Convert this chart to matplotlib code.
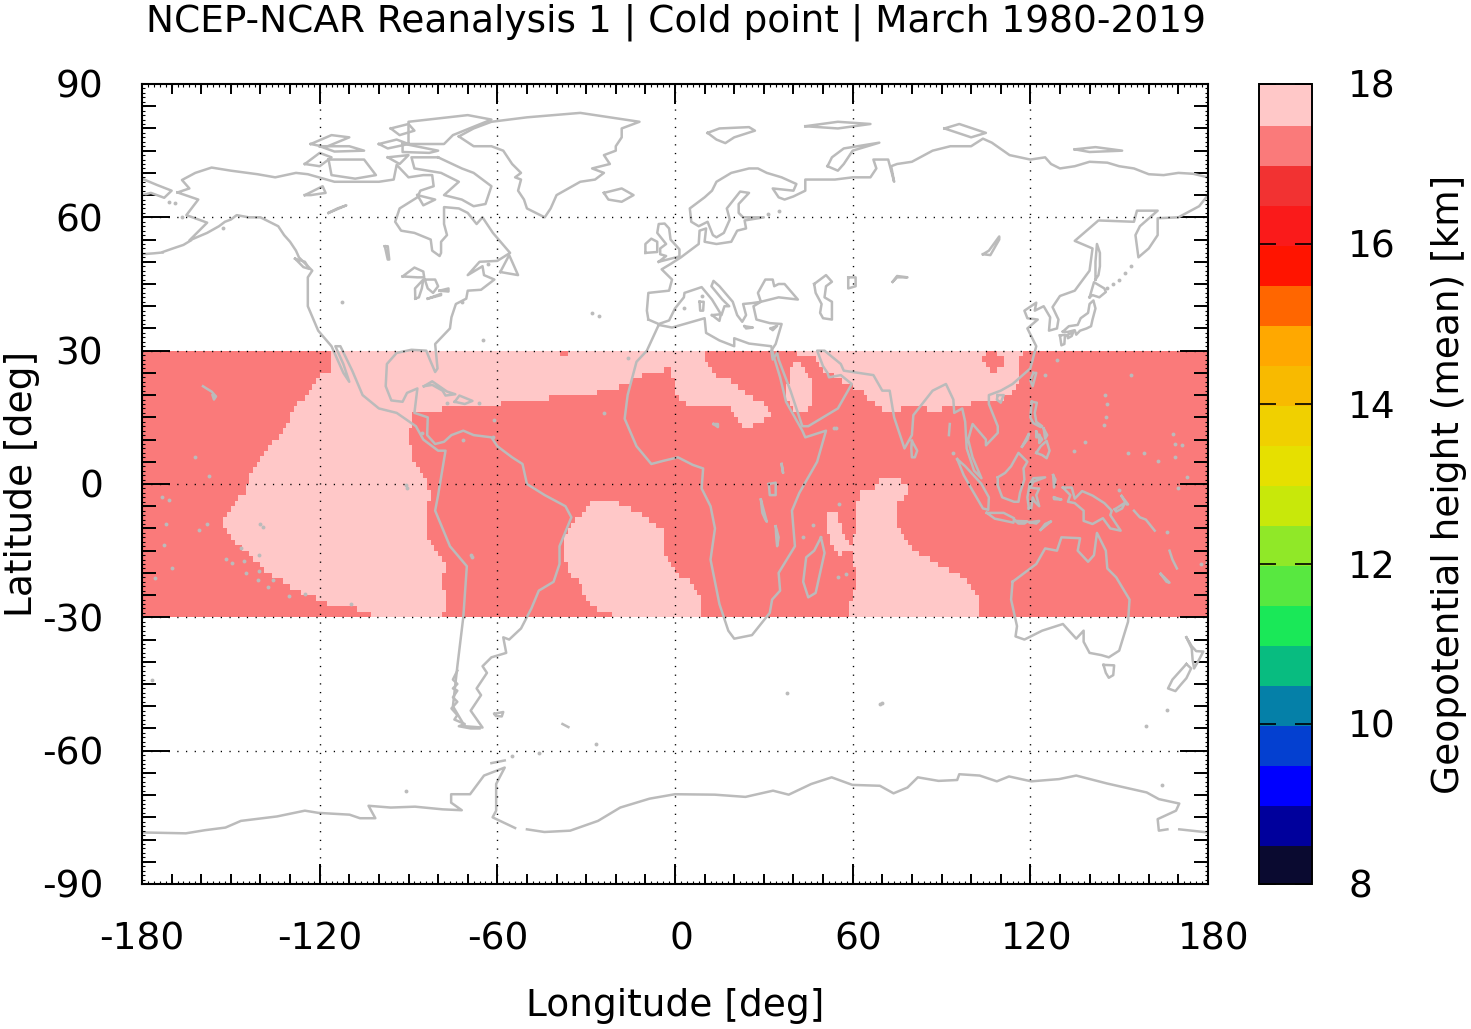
"""Cold point height map, NCEP-NCAR Reanalysis 1, March 1980-2019."""
import matplotlib
matplotlib.use("Agg")
import matplotlib.pyplot as plt
import numpy as np
from matplotlib.colors import BoundaryNorm, ListedColormap
from matplotlib.transforms import ScaledTranslation

W, H = 1471, 1029

# colour classes of the bar, 8 km upwards, 0.5 km each
level_edges = [8.0, 8.5, 9.0, 9.5, 10.0, 10.5, 11.0, 11.5, 12.0, 12.5, 13.0,
               13.5, 14.0, 14.5, 15.0, 15.5, 16.0, 16.5, 17.0, 17.5, 18.0]
level_colors = ["#0a0a30", "#00009c", "#0000ff", "#0440d0", "#0580a8", "#08bc80",
                "#1ae858", "#58e840", "#90e828", "#c8e80a", "#e6e000", "#f0d000",
                "#f8ba00", "#ffa800", "#ff6600", "#ff1400", "#fa1a1a", "#f23232",
                "#fa7a7a", "#ffc8c8"]

height_low = 17.25
height_high = 17.75

# rows run from 30N southward in 1.25 deg steps, 48 rows
pacific_west = [-116.25, -116.25, -116.25, -116.25, -120, -121.25, -122.5, -123.75, -125, -127.5,
                -128.75, -130, -130, -131.25, -132.5, -133.75, -136.25, -137.5, -138.75, -140,
                -141.25, -142.5, -143.75, -143.75, -145, -145, -147.5, -148.75, -150, -151.25,
                -152.5, -152.5, -151.25, -150, -148.75, -146.25, -143.75, -142.5, -140, -138.75,
                -136.25, -132.5, -130, -126.25, -121.25, -117.5, -107.5, -102.5]
pacific_east = [-38.75, 10, 11.25, -3.75, -11.25, -15, -18.75, -26.25, -42.5, -58.75,
                -78.75, -88.75, -88.75, -88.75, -90, -90, -90, -88.75, -88.75, -88.75,
                -87.5, -86.25, -85, -83.75, -83.75, -82.5, -82.5, -83.75, -83.75, -83.75,
                -83.75, -83.75, -83.75, -83.75, -82.5, -81.25, -80, -78.75, -77.5, -77.5,
                -78.75, -78.75, -78.75, -77.5, -77.5, -77.5, -77.5, -78.75]

africa_runs = {0: [(-36.25, 10)], 3: [(-1.25, 12.5)], 4: [(-1.25, 13.75)], 5: [(0, 18.75)],
               6: [(0, 21.25)], 7: [(0, 23.75)], 8: [(1.25, 26.25)], 9: [(3.75, 30)],
               10: [(18.75, 31.25)], 11: [(20, 32.5)], 12: [(21.25, 30)], 13: [(22.5, 26.25)]}
arabia_runs = {2: [(40, 42.5)], 3: [(38.75, 43.75)], 4: [(38.75, 45)], 5: [(38.75, 46.25)],
               6: [(37.5, 46.25)], 7: [(37.5, 46.25)], 8: [(37.5, 46.25)], 9: [(38.75, 46.25)],
               10: [(40, 45)]}
asia_runs = {0: [(41.25, 105), (108.75, 117.5)], 1: [(47.5, 103.75), (111.25, 116.25)],
             2: [(48.75, 105), (111.25, 116.25)], 3: [(50, 106.25), (108.75, 116.25)],
             4: [(53.75, 116.25)], 5: [(56.25, 116.25)], 6: [(60, 115)], 7: [(63.75, 113.75)],
             8: [(65, 111.25)], 9: [(67.5, 100)], 10: [(70, 76.25), (85, 90)]}
atlantic_runs = {27: [(-28.75, -18.75)], 28: [(-30, -15)], 29: [(-31.25, -11.25)],
                 30: [(-33.75, -8.75)], 31: [(-35, -6.25)], 32: [(-36.25, -3.75)],
                 33: [(-37.5, -3.75)], 34: [(-37.5, -3.75)], 35: [(-37.5, -3.75)],
                 36: [(-37.5, -3.75)], 37: [(-37.5, -2.5)], 38: [(-36.25, -1.25)],
                 39: [(-36.25, 0)], 40: [(-35, 1.25)], 41: [(-32.5, 5)], 42: [(-31.25, 6.25)],
                 43: [(-31.25, 7.5)], 44: [(-30, 8.75)], 45: [(-28.75, 8.75)],
                 46: [(-26.25, 8.75)], 47: [(-21.25, 8.75)]}
mozambique_runs = {29: [(51.25, 55)], 30: [(51.25, 55)], 31: [(51.25, 56.25)], 32: [(51.25, 56.25)],
                   33: [(52.5, 57.5)], 34: [(52.5, 58.75)], 35: [(53.75, 60)], 36: [(55, 56.25)]}
indian_runs = {23: [(68.75, 76.25)], 24: [(67.5, 78.75)], 25: [(62.5, 78.75)], 26: [(62.5, 77.5)],
               27: [(61.25, 75)], 28: [(61.25, 75)], 29: [(61.25, 75)], 30: [(61.25, 75)],
               31: [(61.25, 75)], 32: [(61.25, 76.25)], 33: [(60, 77.5)], 34: [(60, 78.75)],
               35: [(60, 80)], 36: [(60, 82.5)], 37: [(60, 86.25)], 38: [(60, 88.75)],
               39: [(61.25, 92.5)], 40: [(61.25, 96.25)], 41: [(61.25, 98.75)], 42: [(61.25, 100)],
               43: [(60, 101.25)], 44: [(60, 102.5)], 45: [(58.75, 102.5)], 46: [(58.75, 102.5)],
               47: [(58.75, 102.5)]}

# coastlines, lon/lat
north_america = [(-168, 65.6), (-164, 66.5), (-166.5, 68.4), (-162, 70), (-156.5, 71.2), (-150, 70.5), (-141, 69.7),
                 (-135, 69), (-128, 70), (-124, 69.7), (-115, 68), (-108, 68), (-100, 68), (-95, 68.5), (-94, 71.8),
                 (-90, 69), (-85, 69.5), (-82, 69.5), (-81.5, 67), (-86, 66), (-87, 64.5), (-93, 62), (-94.5, 59),
                 (-92.5, 57), (-88, 56.5), (-82.5, 55), (-82, 52.5), (-79.5, 51.3), (-79, 52), (-79, 54.5), (-77, 56),
                 (-78, 58.5), (-78, 62.3), (-73, 62), (-70, 61), (-67, 58.5), (-65, 60), (-61.5, 56.5), (-57, 53),
                 (-55.7, 52), (-60, 50.2), (-66, 50), (-70, 47), (-65, 49), (-64.5, 47), (-61, 46), (-65.5, 43.7),
                 (-70, 43.5), (-70.5, 41.7), (-74, 40.5), (-75.5, 37.5), (-76, 35), (-81, 31.5), (-80.2, 26), (-81, 25.2),
                 (-82.8, 28), (-84, 30), (-89, 30.2), (-94, 29.5), (-97.3, 27), (-97.7, 22), (-95.8, 18.8), (-92, 18.5),
                 (-90.5, 20.5), (-87, 21.5), (-88, 16), (-83.5, 15), (-83.7, 11), (-81, 9), (-78, 9.5), (-75.5, 11),
                 (-71.5, 12), (-68, 11), (-62, 10.5), (-60, 8.5), (-55, 6), (-51.5, 4.5), (-50, 0), (-44, -2.5), (-37, -5),
                 (-35, -7.5), (-39, -14), (-39, -18), (-41, -22), (-46, -24), (-48.5, -28), (-52, -32.5), (-56, -35),
                 (-58, -34.5), (-57, -38), (-62, -39), (-65, -41), (-63.5, -42.5), (-67, -46), (-65.5, -47.5), (-69, -51),
                 (-65, -54.8), (-71, -54.5), (-75, -50), (-73.5, -41), (-71.5, -30), (-70.3, -18.5), (-76, -14), (-81, -6),
                 (-80, -2.5), (-79, 1.5), (-77.5, 7.5), (-80, 7.5), (-85, 10), (-87.5, 13), (-94, 16), (-100, 17),
                 (-105.5, 20), (-109, 25.5), (-113, 31), (-114.7, 31), (-112, 27), (-110, 23), (-112, 25), (-116, 31),
                 (-120.5, 34.5), (-124, 40), (-124, 46.5), (-122.5, 48), (-127, 51), (-128, 52.5), (-130, 54.5), (-132, 56),
                 (-134, 58), (-137, 59), (-140, 60), (-144, 60), (-148, 60.5), (-150, 59.5), (-152, 59), (-154, 58),
                 (-158, 56.5), (-164, 54.8), (-158, 58.8), (-165, 60.5), (-161, 64), (-168, 65.6)]
chile_fjords = [(-73.5, -42), (-75, -44), (-73.5, -45), (-75, -46), (-73.5, -46.5), (-75, -48), (-73.5, -49), (-75.5, -50.5), (-73.5, -52),
                (-74.5, -53), (-71, -54), (-73, -54.5), (-69, -55), (-66, -55)]
eurasia_north = [(-9, 37), (-9.5, 39), (-9, 43), (-2, 43.5), (-1, 46), (-4.5, 48.3), (-1.5, 49.5), (2, 51), (4, 52), (8, 54),
                 (8.3, 57), (10.5, 57.5), (10, 54.5), (14, 54), (19, 54.5), (21, 57), (24, 57.5), (23.5, 59.3), (30, 60),
                 (23, 60), (21.5, 61), (21.5, 63), (25, 65.5), (22, 65.8), (17.5, 62), (18.5, 59.5), (16.5, 56.5), (14, 55.5),
                 (12.8, 56), (11, 59), (8, 58), (5.5, 59), (5, 62), (8, 63.5), (10, 64.5), (12.5, 66), (14, 68), (16, 68.8),
                 (19, 70), (22, 70.5), (25, 71), (28, 71), (31, 70), (36, 69), (41, 67.5), (40, 66), (33, 66.5), (35, 64.5),
                 (37, 64), (40, 64.7), (44, 66), (44, 68.5), (54, 68.5), (60, 69), (66, 69), (68, 71), (67, 73), (72, 73),
                 (74, 68), (73, 71.5), (75, 72), (80, 72.5), (87, 75), (93, 76), (100, 76), (104, 77.7), (107, 76.8),
                 (113, 74), (120, 73), (125, 73.5), (127, 72), (130, 71), (135, 71.5), (140, 72.5), (146, 72.3), (150, 71.5),
                 (155, 71), (160, 69.7), (165, 69.5), (170, 70), (175, 69.8), (180, 69)]
chukotka = [(-180, 68.7), (-175, 67.3), (-170, 66), (-172.5, 64.4), (-177, 65.5), (-180, 65)]
eurasia_south = [(180, 65), (177, 62.5), (170, 60), (163, 59.8), (163, 56), (160, 53), (156.5, 51), (155.5, 56), (157, 58),
                 (163, 61.5), (156, 61.5), (155, 59), (143, 59.3), (135, 54.7), (141, 53), (140, 48), (135, 43.5), (130, 42.3),
                 (127.5, 39.8), (129.5, 37), (129, 35), (126.3, 34.5), (126.7, 37.5), (124.5, 40), (121.5, 39), (122, 40.8),
                 (118, 39), (119, 37.3), (122.5, 37), (119, 35), (122, 31), (120, 26), (114, 22.5), (110, 21), (106, 20),
                 (106, 18), (109, 13), (109, 11.5), (105, 8.7), (105, 10), (100.5, 13.5), (99, 10), (100.5, 6), (103.5, 1.3),
                 (101, 3), (98.5, 8), (98, 14), (97, 17), (94.3, 16), (94, 19), (91.5, 22.5), (87, 21), (80.5, 15.5), (80, 11),
                 (77.5, 8), (74, 15), (72.5, 21), (70, 21), (67, 24.5), (57, 25.5), (56, 27), (50.5, 30), (48, 30), (50, 26.5),
                 (51.5, 25), (52, 24), (56, 24.5), (59.7, 22.5), (55, 17), (45, 13), (43, 13), (39, 21), (35, 28), (34.5, 29.5),
                 (33, 28), (32.5, 30), (34, 31.5), (36, 36), (32, 36.2), (27.5, 37), (26.5, 40), (29, 41), (35, 42),
                 (41.5, 41.5), (37, 45), (35, 45), (33.5, 44.5), (33, 46), (30.5, 46), (28, 43), (29, 41), (26, 40.7), (23, 40.5),
                 (24, 38), (22.7, 36.5), (21, 38), (19.5, 41), (15, 44.5), (13, 45.7), (12.3, 44.5), (16, 41.5), (18.3, 40),
                 (16.7, 40), (15.7, 38), (12.5, 41.5), (9, 44.3), (3.2, 43), (3, 42), (0, 39.5), (-2, 36.8), (-5.5, 36), (-9, 37)]
africa = [(-5.5, 35.8), (-1, 35.2), (10, 37.3), (10.5, 34), (15, 32.3), (20, 31), (20, 32.8), (25, 31.6), (32.5, 31), (33, 29.5),
          (35.5, 24), (37.5, 18.5), (43, 12), (44, 10.5), (51, 12), (48, 5), (42, -2), (39.5, -6), (40.5, -14), (35, -20),
          (35.5, -24), (32.8, -26), (32, -29), (26, -34), (20, -34.8), (18, -33), (15, -27), (12, -17), (13.5, -10), (12, -5),
          (9, -1), (9.5, 3.5), (6, 4.3), (1, 6), (-4, 5.2), (-8, 4.5), (-13, 8.5), (-17, 14.7), (-16, 20), (-13, 27.5),
          (-9.5, 30), (-5.5, 35.8)]
australia = [(114, -22), (113.5, -26), (115.5, -32), (115, -34.3), (118, -35), (124, -33), (131, -31.5), (135.5, -34.8), (138, -33),
             (138, -35.5), (140, -38), (144, -38.5), (146.5, -39), (150, -37.5), (153, -31), (153.5, -26), (149, -21), (146, -19),
             (145.5, -15), (142.5, -11), (141.5, -16), (139.5, -17.5), (136, -15), (136.8, -12.2), (130.5, -12), (129, -15),
             (125, -14.5), (122, -18), (114, -22)]
antarctica_west = [(-180, -78.4), (-165.2, -78.6), (-158.8, -77.9), (-151.8, -77.3), (-146.6, -75.8), (-134.4, -74.8), (-125, -73.5),
                   (-120.4, -74), (-109.9, -74.4), (-106.4, -75.2), (-101.2, -75.2), (-103.5, -72.4), (-96, -72.8), (-87.8, -72.6),
                   (-78.5, -73.2), (-72, -73.4), (-75.6, -71.7), (-75.6, -69.8), (-69.2, -69.8), (-64.5, -65.6), (-57.5, -63.8),
                   (-60.4, -67.5), (-60.4, -73.5), (-61.6, -75), (-54, -77.4)]
antarctica_east = [(-50, -77.7), (-44.1, -78.3), (-35.4, -78), (-26, -75.8), (-18.5, -72.8), (-8.6, -70.8), (0, -69.8), (13.4, -69.9),
                   (23.8, -70.4), (33.1, -69), (38.4, -69.9), (46, -67.5), (52.9, -66), (59.9, -67.7), (69.2, -67.9), (73.8, -69.6),
                   (78.5, -68.3), (82, -66), (89, -66.8), (95.3, -66.6), (96, -65.3), (102.9, -65.6), (108.7, -66.9), (112.8, -65.8),
                   (120.3, -66.9), (129.7, -66.4), (135.5, -65.6), (146, -67.4), (159.3, -69.4), (163.4, -70.9), (170.3, -71.9),
                   (169.2, -73.5), (163, -75.4), (163.4, -78), (166.3, -77.7)]
ross_shelf = [(170.3, -77.7), (180, -78.4)]

greenland = [(-73, 78.2), (-68, 76), (-62, 76), (-58, 75), (-55, 72), (-52, 70), (-54, 69), (-52, 68.5), (-53, 66), (-51, 64), (-50, 62),
             (-47, 61), (-44, 60), (-42, 62), (-40, 65), (-32, 68), (-27, 68.5), (-24, 70), (-28, 71), (-22, 72), (-24, 74), (-20, 75),
             (-20, 76), (-18, 78), (-18, 80), (-12, 81.5), (-32, 83.5), (-50, 82.5), (-62, 81.5), (-68, 80), (-73, 78.2)]
baffin = [(-80, 73.5), (-72, 71), (-68, 70), (-62, 67), (-64, 63), (-68, 62.5), (-72, 64), (-78, 65), (-73, 68), (-79, 70), (-88, 71),
          (-89, 73.5), (-80, 73.5)]
victoria = [(-117, 73), (-105, 73), (-101, 69.5), (-108, 68.7), (-116, 69.5), (-117, 73)]
banks = [(-125, 72), (-120, 74.5), (-116, 73.5), (-120, 71.5), (-125, 72)]
ellesmere = [(-90, 76.5), (-78, 76.5), (-75, 78.5), (-62, 82), (-70, 83), (-90, 81.5), (-90, 76.5)]
devon = [(-92, 76.6), (-80, 75), (-83, 74.5), (-92, 74.7), (-92, 76.6)]
melville = [(-120, 76), (-110, 76), (-105, 75), (-115, 74.8), (-120, 76)]
prince_patrick = [(-123, 76.5), (-116, 78.5), (-110, 78), (-118, 75.8), (-123, 76.5)]
bathurst = [(-100, 76.5), (-94, 77.5), (-90, 76.5), (-97, 75.5), (-100, 76.5)]
axel_heiberg = [(-96, 80), (-90, 81), (-88, 79.5), (-93, 78.5), (-96, 80)]
somerset = [(-97, 73.5), (-90, 74), (-93, 72), (-97, 73.5)]
southampton = [(-87, 65), (-81, 64), (-85, 62.7), (-87, 65)]
newfoundland = [(-59, 47.7), (-56, 51.5), (-53, 47), (-59, 47.7)]
iceland = [(-24, 65.5), (-18, 66.5), (-14, 65), (-18, 63.5), (-22.5, 64), (-24, 65.5)]
vancouver = [(-128.3, 50.7), (-125, 50), (-123.5, 48.4), (-125.5, 48.8), (-128.3, 50.7)]
lake_superior = [(-92, 46.7), (-88, 48.7), (-85, 47.8), (-84.7, 46.5), (-87, 46.5), (-92, 46.7)]
lake_michigan = [(-87.7, 41.7), (-87.8, 44), (-85, 46), (-85.5, 44), (-86.5, 42), (-87.7, 41.7)]
lake_huron = [(-84.5, 46), (-81, 46), (-80, 44.5), (-81.7, 43), (-83.5, 44), (-84.5, 46)]
lake_erie = [(-83.5, 41.7), (-79, 42.8), (-79, 42.5), (-83.5, 41.7)]
lake_ontario = [(-79.5, 43.5), (-76.5, 44), (-76.5, 43.3), (-79.5, 43.5)]
lake_winnipeg = [(-98, 53.5), (-97, 53.5), (-96.5, 50.5), (-97, 50.5), (-98, 53.5)]
great_slave = [(-117, 61), (-111, 62.7), (-114, 62), (-117, 61)]
great_bear = [(-125, 65), (-119, 67), (-118, 65.5), (-123, 65), (-125, 65)]
cuba = [(-84.8, 22), (-82, 23.1), (-77, 20.8), (-74.2, 20.2), (-77.5, 19.9), (-78.5, 21), (-82, 22.3), (-84.8, 22)]
hispaniola = [(-74.4, 18.5), (-72.8, 19.9), (-68.4, 18.7), (-71, 18), (-74.4, 18.5)]
hawaii = [(-159.4, 22), (-158, 21.4), (-156.5, 20.8), (-155, 19.7), (-155.7, 19), (-156.2, 20)]
aleutians_east = [(-173, 52.2), (-170, 52.9), (-166, 53.8), (-163.5, 54.8)]
aleutians_west = [(-180, 51.7), (-176, 51.9), (-173, 52.1)]
uk = [(-5.5, 50), (1.5, 51.2), (1.5, 52.8), (-1.5, 55), (-2, 57.5), (-3.5, 58.6), (-5.5, 58.5), (-6, 56.5), (-3, 54), (-5, 53), (-5, 51.7),
      (-3, 51.3), (-5.5, 50)]
ireland = [(-10, 52), (-6, 52.2), (-6, 54.5), (-8, 55.2), (-10, 54), (-10, 52)]
svalbard = [(11, 79), (15, 80), (25, 80.3), (27, 79.5), (20, 78), (17, 76.7), (14, 77.5), (11, 79)]
franz_josef = [(44, 80.5), (55, 81.5), (66, 81), (55, 80), (44, 80.5)]
novaya_zemlya = [(51.5, 71.5), (53, 73.5), (57, 75.5), (69, 76.8), (60, 75), (57, 72), (55, 70.5), (51.5, 71.5)]
severnaya = [(91, 80), (96, 81), (105, 79), (100, 78), (91, 80)]
new_siberian = [(135, 75.3), (142, 75.8), (151, 75), (140, 74.7), (135, 75.3)]
caspian = [(47, 45), (51, 47), (53, 45.5), (51, 44.5), (50.5, 42), (53, 41), (53, 37), (50, 37.3), (49, 38.5), (49.5, 40.5), (47.5, 43), (47, 45)]
aral = [(58.5, 46.5), (61, 46.5), (61, 44.5), (58.5, 44), (58.5, 46.5)]
balkhash = [(73.5, 45.5), (75, 46.8), (78.5, 46.5), (75, 46.5), (73.5, 45.5)]
baikal = [(104, 51.7), (106, 52.5), (109.5, 55.7), (109.5, 55), (106.5, 51.5), (104, 51.7)]
sardinia = [(8.3, 41), (9.7, 41), (9.5, 39), (8.5, 39), (8.3, 41)]
sicily = [(12.5, 38), (15.5, 38.2), (15, 36.7), (12.5, 38)]
crete = [(23.5, 35.5), (26.3, 35.2), (24, 35), (23.5, 35.5)]
cyprus = [(32.3, 35), (34.5, 35.6), (33, 34.6), (32.3, 35)]
madagascar = [(49.3, -12), (50.5, -15.5), (47.5, -24.5), (45, -25.5), (43.3, -22), (44.3, -16.5), (47, -15), (49.3, -12)]
lake_victoria = [(31.7, 0), (34, 0.3), (34, -2.5), (32, -2.5), (31.7, 0)]
tanganyika = [(29, -3.5), (30, -6), (31, -8.5), (30.5, -8), (29.5, -6.5), (29, -3.5)]
lake_malawi = [(34, -9.5), (35, -12), (34.5, -14), (34.2, -12), (34, -9.5)]
lake_turkana = [(36, 4.5), (36.5, 2.5), (36, 4.5)]
lake_chad = [(13, 13.5), (14.5, 13.5), (14.5, 12.8), (13, 13.5)]
sri_lanka = [(80, 9.7), (81.8, 7.5), (81, 6), (80, 6), (79.8, 8), (80, 9.7)]
sumatra = [(95.3, 5.6), (98, 4), (103.5, 0), (106, -3), (105.8, -5.8), (104, -5.5), (100.5, -1.5), (97.5, 2), (95.3, 5.6)]
java = [(105.3, -6.5), (108.5, -6.5), (111, -6.5), (114.5, -7.7), (114.3, -8.7), (108, -7.8), (105.3, -6.5)]
sumbawa = [(115, -8.3), (119, -8.4), (118, -8.9), (116, -8.9), (115, -8.3)]
flores = [(119.8, -8.6), (123, -8.3), (122, -8.9), (119.8, -8.6)]
timor = [(123.5, -10.3), (127, -8.4), (125, -9), (123.5, -10.3)]
borneo = [(109, 1.5), (111.5, 2.5), (113.5, 4), (116, 7), (119, 5), (117.7, 3.5), (118, 1), (116.5, -2), (116, -4), (114.5, -4),
          (110.5, -3), (109, -0.3), (109, 1.5)]
sulawesi = [(119.5, -5.5), (119, -3), (119.8, 0), (121, 1.3), (125, 1.5), (121, 0.5), (120, -0.8), (122, -1), (123, -1), (122, -2.5),
            (123, -5), (121.5, -4), (120.8, -3), (120.3, -5.5), (119.5, -5.5)]
luzon = [(120.5, 18.5), (122.2, 18.3), (121.5, 16), (122, 14), (124, 13), (123.5, 12.8), (121, 13.7), (120, 15), (120.5, 18.5)]
mindanao = [(122, 7), (123.5, 8.5), (125.5, 9.7), (126.5, 7.5), (125.5, 5.8), (124, 6.5), (122, 7)]
samar = [(124.5, 12.5), (125.7, 11), (125, 10.2), (124.5, 12.5)]
panay = [(122, 11.8), (123, 10.5), (122, 10.5), (122, 11.8)]
negros = [(123, 11), (124, 10), (123, 9.2), (123, 11)]
palawan = [(117.2, 8.4), (119.5, 11.3), (119, 10), (117.2, 8.4)]
halmahera = [(127.7, 2), (128.5, 1), (128, -0.8), (127.7, 2)]
seram = [(128, -3), (130.5, -3.5), (128, -3.4), (128, -3)]
new_guinea = [(131, -0.8), (134, -0.8), (135, -3.3), (137.5, -1.6), (141, -2.6), (145, -4.3), (147.5, -6), (147, -7), (150.5, -10.5),
              (147, -10), (144.5, -7.7), (141, -9), (138, -8.3), (138, -6), (135, -4.3), (132.7, -4), (133.5, -2.5), (131, -0.8)]
new_britain = [(148.5, -5.7), (152, -4.2), (151, -5.5), (149, -6.2), (148.5, -5.7)]
new_ireland = [(150.8, -2.7), (153, -4.6), (152.5, -4.6), (150.8, -2.7)]
solomons = [(155, -6), (157, -7.5), (159, -8), (162, -10.5)]
vanuatu = [(167, -15), (168, -17), (169.5, -19)]
new_caledonia = [(164, -20.2), (167, -22.2), (166, -22), (164, -20.2)]
honshu = [(131, 34.3), (133, 35.5), (136, 35.8), (137, 37.3), (139.5, 38.5), (140, 40.5), (141.3, 41.3), (142, 39.5), (141, 37), (140.5, 35.5),
          (139, 35), (136.8, 34.5), (135.5, 33.6), (135, 34.6), (132.5, 34.2), (131, 34.3)]
hokkaido = [(140, 42), (141.5, 45.4), (145, 44), (145.5, 43.2), (143.3, 42), (141, 42.5), (140, 42)]
kyushu = [(130, 33.4), (131.7, 33.6), (131.5, 31.5), (130.5, 31.2), (130, 33.4)]
shikoku = [(132.5, 33.5), (134.5, 34.2), (134, 33.3), (132.7, 32.8), (132.5, 33.5)]
sakhalin = [(142, 46), (142, 50), (142.5, 54), (143.5, 52), (143.5, 49), (143, 47), (142, 46)]
taiwan = [(121, 25), (122, 25), (120.8, 22), (120, 23.3), (121, 25)]
hainan = [(109, 20), (111, 20), (110, 18.3), (108.7, 19), (109, 20)]
andaman = [(92.8, 13.5), (92.5, 11)]
nz_north = [(172.7, -34.5), (174.5, -36.5), (176, -37.6), (178.4, -37.7), (177, -39.5), (175.3, -41.5), (174.8, -39.5), (174.5, -37), (172.7, -34.5)]
nz_south = [(172.7, -40.5), (174.3, -41.5), (172.7, -43.7), (171, -45), (169, -46.6), (166.5, -46), (168, -44), (172.7, -40.5)]
tasmania = [(144.7, -40.7), (148.3, -40.8), (148, -43), (146.5, -43.6), (145.5, -42.5), (144.7, -40.7)]
falklands = [(-61, -51.7), (-58, -51.3), (-58.5, -52.3), (-60.5, -52.2), (-61, -51.7)]
south_georgia = [(-38, -54), (-36, -54.7)]
south_shetland = [(-62, -62.8), (-57.5, -62.2)]

coast_lines = [north_america, chile_fjords, eurasia_north, chukotka, eurasia_south, africa, australia, antarctica_west, antarctica_east,
               ross_shelf, greenland, baffin, victoria, banks, ellesmere, devon, melville, prince_patrick, bathurst, axel_heiberg, somerset,
               southampton, newfoundland, iceland, vancouver, lake_superior, lake_michigan, lake_huron, lake_erie, lake_ontario,
               lake_winnipeg, great_slave, great_bear, cuba, hispaniola, hawaii, aleutians_east, aleutians_west, uk, ireland, svalbard,
               franz_josef, novaya_zemlya, severnaya, new_siberian, caspian, aral, balkhash, baikal, sardinia, sicily, crete, cyprus,
               madagascar, lake_victoria, tanganyika, lake_malawi, lake_turkana, lake_chad, sri_lanka, sumatra, java, sumbawa, flores,
               timor, borneo, sulawesi, luzon, mindanao, samar, panay, negros, palawan, halmahera, seram, new_guinea, new_britain,
               new_ireland, solomons, vanuatu, new_caledonia, honshu, hokkaido, kyushu, shikoku, sakhalin, taiwan, hainan, andaman,
               nz_north, nz_south, tasmania, falklands, south_georgia, south_shetland]

small_islands = [(-162, 6.1), (-157.3, 1.8), (-173.1, -2.9), (-170.8, -3.6), (-172, -9.1), (-157.9, -9), (-160.9, -10.3), (-172.5, -13.8),
                 (-140.2, -8.9), (-139, -9.6), (-146.4, -14.4), (-140.4, -16), (-149.7, -17.7), (-151.6, -16.8), (-145.7, -17.3),
                 (-170, -19), (-175.5, -21.2), (-145, -20), (-140.4, -19.5), (-140.8, -21.7), (-135.8, -21.5), (-137.3, -23.2),
                 (-130.3, -25.2), (-125, -24.7), (-109.3, -27), (-91, -0.3), (-90.5, -0.8), (125, 24.5), (129, 28), (145.3, 20),
                 (146, 18.1), (145.7, 15.1), (144.8, 13.3), (154, 24.5), (138.4, 9.5), (134.7, 7.4), (153, 7), (158.4, 6.9), (163, 5.2),
                 (169, 6.1), (168.3, 11.2), (168.8, 9), (171.2, 8.8), (173, 1.6), (169.8, -0.9), (166, -10.8), (150, -1.4), (93.8, 6.9),
                 (46.5, -9.3), (43.3, -11.9), (55.2, -21), (57.6, -20.3), (53.8, 12.5), (54.5, 12.5), (69.8, -49.2), (69.3, -49.5),
                 (37.8, -47), (166, -50.8), (164.5, -67.7), (-176.6, -44), (-26.7, -58.5), (-45.9, -60.6), (-55, -61.3), (-90.7, -69),
                 (-69, -16), (-68.5, -16.5), (-71.5, 10), (-64.7, 32.3), (-112.5, 41), (-28, 38.5), (-25.5, 37.8), (-16, 28.3), (-24, 16),
                 (-171, 63.5), (-169, 63.2), (-166.5, 60), (146, 44), (148, 45), (150, 46), (152, 47.5), (154, 49), (-152.5, 57.5),
                 (3, 39.7), (9.2, 42.2), (55.5, -4.6), (179.5, -17.8), (-63, 49.5), (-72, 41), (-77, 18.2), (-66.3, 18.3), (-85.5, 11.5),
                 (31.5, 60.8), (35, 61.5), (-61, 14.5), (-61.5, 10.5), (177.5, -18), (159, -54.5)]

x_ticks = [-180, -120, -60, 0, 60, 120, 180]
x_tick_labels = ["-180", "-120", "-60", "0", "60", "120", "180"]
y_ticks = [-90, -60, -30, 0, 30, 60, 90]
y_tick_labels = ["-90", "-60", "-30", "0", "30", "60", "90"]
bar_ticks = [8, 10, 12, 14, 16, 18]

lon_edges = np.arange(-180, 180.01, 1.25)
lat_edges = np.arange(30, -30.01, -1.25)
lon_mid = (lon_edges[:-1] + lon_edges[1:]) / 2

grid = np.full((len(lat_edges) - 1, len(lon_mid)), height_low)
for row, (west, east) in enumerate(zip(pacific_west, pacific_east)):
    grid[row, (lon_mid > west) & (lon_mid < east)] = height_high
for runs in [africa_runs, arabia_runs, asia_runs, atlantic_runs, mozambique_runs, indian_runs]:
    for row, spans in runs.items():
        for west, east in spans:
            grid[row, (lon_mid > west) & (lon_mid < east)] = height_high

plt.rcParams["font.family"] = "DejaVu Sans"
plt.rcParams["font.size"] = 27

fig = plt.figure(figsize=(W / 100, H / 100), dpi=100)
ax = fig.add_axes([142 / W, 1 - 884 / H, 1066 / W, 800 / H])

cmap = ListedColormap(level_colors)
norm = BoundaryNorm(level_edges, cmap.N)
mesh = ax.pcolormesh(lon_edges, lat_edges, grid, cmap=cmap, norm=norm, antialiased=False, linewidth=0, zorder=1)

for line in coast_lines:
    lons, lats = zip(*line)
    ax.plot(lons, lats, color="#bbbbbb", lw=1.8, solid_joinstyle="round", zorder=2)
island_lons, island_lats = zip(*small_islands)
ax.plot(island_lons, island_lats, ls="none", marker="o", ms=2.8, mfc="#bbbbbb", mec="none", zorder=2)

ax.set_xlim(-180, 180)
ax.set_ylim(-90, 90)

dotted = (0, (0.9, 5.36))
for lon in x_ticks[1:-1]:
    ax.axvline(lon, color="black", lw=1, ls=dotted, zorder=3)
for lat in y_ticks[1:-1]:
    ax.axhline(lat, color="black", lw=1, ls=dotted, zorder=3)

ax.set_xticks(x_ticks)
ax.set_xticklabels(x_tick_labels)
ax.set_yticks(y_ticks)
ax.set_yticklabels(y_tick_labels)
ax.set_xticks(np.arange(-170, 180, 10), minor=True)
ax.set_yticks(np.arange(-85, 90, 5), minor=True)
ax.tick_params(axis="x", which="major", direction="in", length=14.4, width=1.4, top=True, pad=27)
ax.tick_params(axis="x", which="minor", direction="in", length=7.2, width=1.4, top=True)
ax.tick_params(axis="y", which="major", direction="in", length=20, width=1.4, right=True, pad=28)
ax.tick_params(axis="y", which="minor", direction="in", length=10, width=1.4, right=True)
for spine in ax.spines.values():
    spine.set_linewidth(1.5)
    spine.set_zorder(5)

# tiny ticks on the frame
xt = ax.get_xaxis_transform()
yt = ax.get_yaxis_transform()
tiny_x = np.arange(-178, 180, 2)
tiny_y = np.arange(-89, 90, 1)
ax.vlines(tiny_x, 0, 0.004, color="black", lw=0.8, transform=xt, zorder=4)
ax.vlines(tiny_x, 0.996, 1, color="black", lw=0.8, transform=xt, zorder=4)
ax.hlines(tiny_y, 0, 0.003, color="black", lw=0.8, transform=yt, zorder=4)
ax.hlines(tiny_y, 0.997, 1, color="black", lw=0.8, transform=yt, zorder=4)

# non-negative labels sit a bit right of their tick in the original
shift = ScaledTranslation(6 / 100, 0, fig.dpi_scale_trans)
for label, text in zip(ax.get_xticklabels(), x_tick_labels):
    if not text.startswith("-"):
        label.set_transform(label.get_transform() + shift)

cax = fig.add_axes([1259 / W, 1 - 884 / H, 53 / W, 800 / H])
cbar = fig.colorbar(mesh, cax=cax, ticks=bar_ticks, format="%d")
cbar.solids.set_edgecolor("face")
cbar.outline.set_linewidth(1.4)
cax.minorticks_off()
cax.tick_params(axis="y", which="major", direction="in", length=12, width=1.2, left=True, right=True,
                labelleft=False, labelright=True, pad=26)

fig.text(675.5 / W, 1 - 22 / H, "NCEP-NCAR Reanalysis 1 | Cold point | March 1980-2019", ha="center", va="center", fontsize=27)
fig.text(675.5 / W, 1 - 1006 / H, "Longitude [deg]", ha="center", va="center", fontsize=27)
fig.text(22 / W, 1 - 484 / H, "Latitude [deg]", ha="center", va="center", rotation=90, fontsize=27)
fig.text(1449 / W, 1 - 484 / H, "Geopotential height (mean) [km]", ha="center", va="center", rotation=90, fontsize=27)

fig.savefig("out.png", dpi=100)
